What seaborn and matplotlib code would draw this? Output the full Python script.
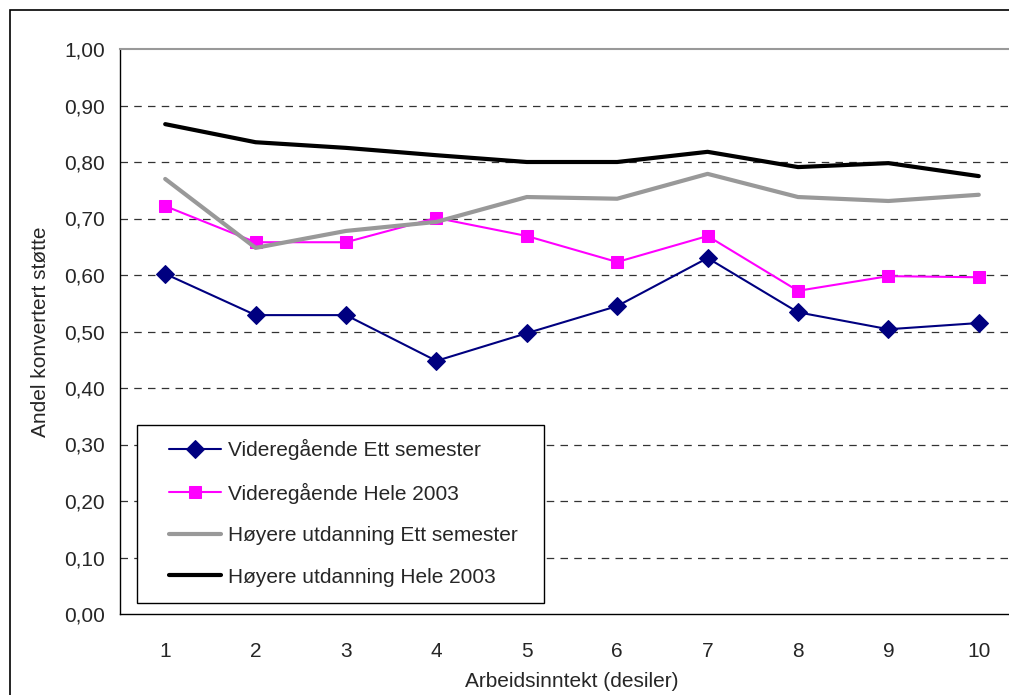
import matplotlib
matplotlib.use("Agg")
import matplotlib.pyplot as plt
import matplotlib.ticker as mticker
from matplotlib.patches import Rectangle
import seaborn as sns
import pandas as pd

# data
desiler = [1, 2, 3, 4, 5, 6, 7, 8, 9, 10]
vgs_ett = [0.602, 0.529, 0.529, 0.448, 0.497, 0.545, 0.630, 0.534, 0.504, 0.515]
vgs_hele = [0.722, 0.658, 0.658, 0.701, 0.669, 0.623, 0.669, 0.572, 0.598, 0.596]
hoy_ett = [0.770, 0.648, 0.678, 0.694, 0.738, 0.735, 0.779, 0.738, 0.731, 0.742]
hoy_hele = [0.867, 0.835, 0.825, 0.812, 0.800, 0.800, 0.818, 0.791, 0.798, 0.775]

series_names = ["Videregående Ett semester", "Videregående Hele 2003",
                "Høyere utdanning Ett semester", "Høyere utdanning Hele 2003"]

df = pd.DataFrame({
    "desil": desiler * 4,
    "andel": vgs_ett + vgs_hele + hoy_ett + hoy_hele,
    "serie": [s for s in series_names for _ in desiler],
})

sns.set_style("white")
plt.rcParams['font.family'] = ['Liberation Sans', 'DejaVu Sans']
FS = 15

W, H = 1009, 695
fig = plt.figure(figsize=(W / 100, H / 100), dpi=100)
# plot area runs past the right edge of the picture, like the original
AX_L, AX_R, AX_T, AX_B = 120, 1024, 49, 614
ax = fig.add_axes([AX_L / W, 1 - AX_B / H, (AX_R - AX_L) / W, (AX_B - AX_T) / H])

def px2ax(x, y):
    return (x - AX_L) / (AX_R - AX_L), (AX_B - y) / (AX_B - AX_T)

palette = {series_names[0]: "#000080", series_names[1]: "#FF00FF",
           series_names[2]: "#999999", series_names[3]: "#000000"}
styles = {
    series_names[0]: dict(lw=1.5, marker="D", ms=9.5),
    series_names[1]: dict(lw=1.5, marker="s", ms=8.5),
    series_names[2]: dict(lw=3, marker=None, ms=0),
    series_names[3]: dict(lw=3, marker=None, ms=0),
}

for name in series_names:
    sub = df[df["serie"] == name]
    st = styles[name]
    sns.lineplot(data=sub, x="desil", y="andel", ax=ax, color=palette[name],
                 lw=st["lw"], marker=st["marker"], markersize=st["ms"],
                 markeredgecolor=palette[name], label=name, zorder=3)

ax.set_xlim(0.5, 10.5)
ax.set_ylim(0, 1.0)
ax.yaxis.set_major_locator(mticker.MultipleLocator(0.1))
ax.yaxis.set_major_formatter(mticker.FuncFormatter(lambda v, p: f"{v:.2f}".replace(".", ",")))
ax.set_xticks(desiler)
ax.set_xticks([x + 0.5 for x in [0] + desiler], minor=True)
ax.tick_params(axis="x", which="major", length=0, pad=20, labelsize=FS)
ax.tick_params(axis="x", which="minor", length=5, direction="out", color="black")
ax.tick_params(axis="y", length=5, direction="out", color="black", labelsize=FS, pad=6)

for v in [0.1, 0.2, 0.3, 0.4, 0.5, 0.6, 0.7, 0.8, 0.9]:
    ax.axhline(v, color="#333333", lw=0.9, ls=(0, (6, 5)), zorder=1)

for side in ["left", "bottom"]:
    ax.spines[side].set_color("black")
    ax.spines[side].set_linewidth(1)
ax.spines["top"].set_color("#999999")
ax.spines["top"].set_linewidth(1.5)
ax.spines["right"].set_visible(False)

ax.set_xlabel("Arbeidsinntekt (desiler)", fontsize=FS, labelpad=8)
ax.set_ylabel("Andel konvertert støtte", fontsize=FS, labelpad=10)

# legend entries without frame, box drawn separately
leg = ax.legend(loc="upper left", bbox_to_anchor=px2ax(169, 439),
                frameon=False, fontsize=FS, handlelength=2.5,
                labelspacing=1.08, borderpad=0, handletextpad=0.35,
                borderaxespad=0)
bx0, by0 = px2ax(137, 603)
bx1, by1 = px2ax(544, 425)
ax.add_patch(Rectangle((bx0, by0), bx1 - bx0, by1 - by0, transform=ax.transAxes,
                       facecolor="white", edgecolor="black", lw=1, zorder=4))
leg.set_zorder(5)

# outer chart border
fig.patches.append(Rectangle((10 / W, -0.05), 1.1, 1 - 10 / H + 0.05,
                             transform=fig.transFigure, fill=False,
                             edgecolor="black", lw=1.2))

fig.savefig("out.png", dpi=100)
